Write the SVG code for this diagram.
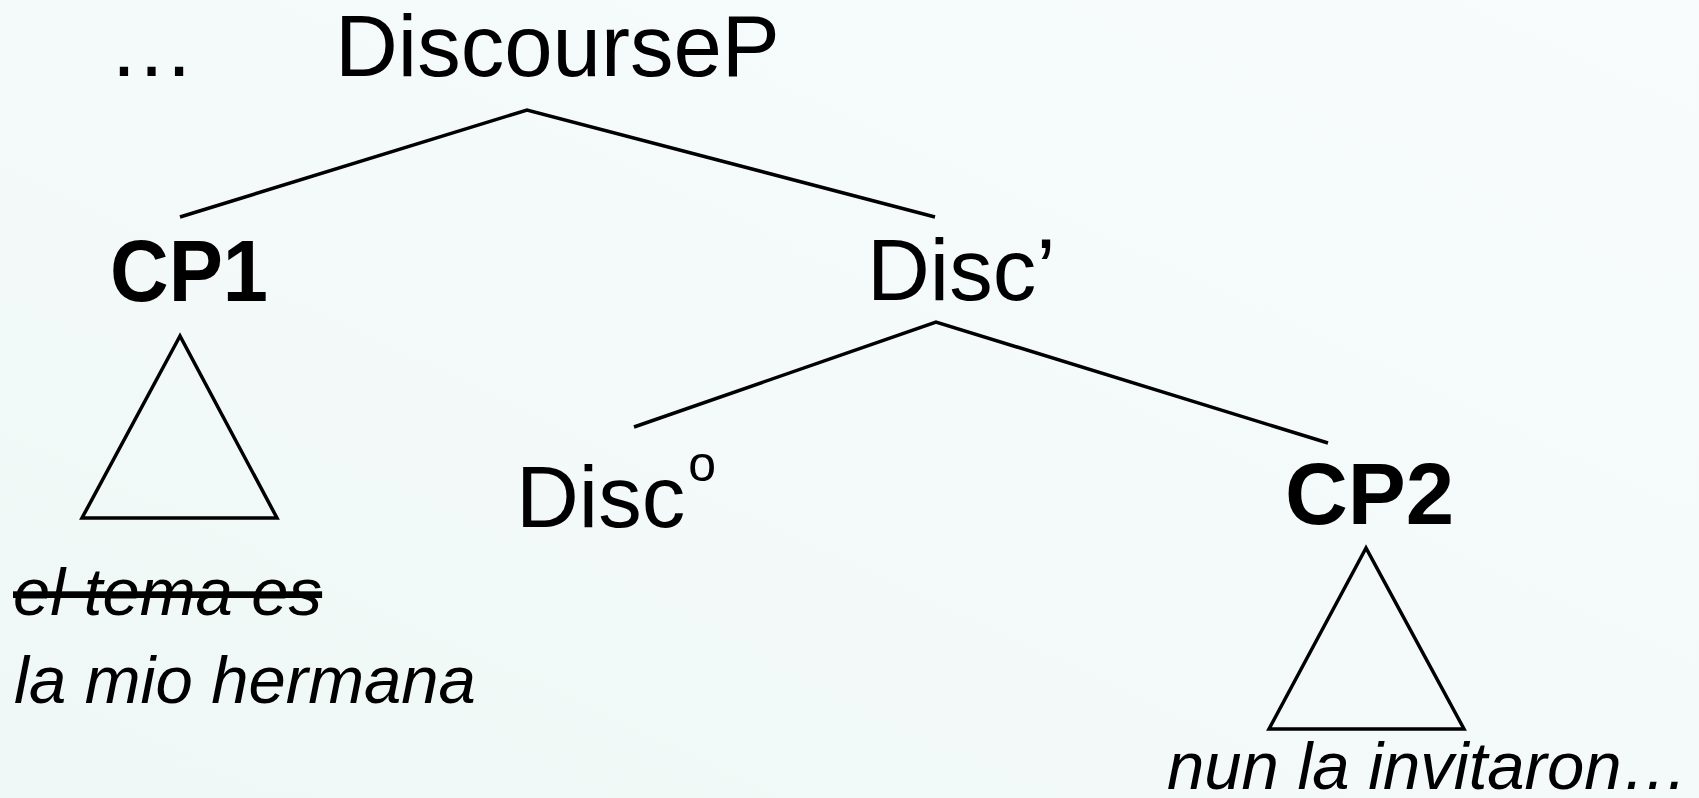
<svg xmlns="http://www.w3.org/2000/svg" width="1699" height="798" viewBox="0 0 1699 798">
  <defs>
    <linearGradient id="bg" x1="1" y1="0" x2="0" y2="1">
      <stop offset="0" stop-color="#F8FCFC"/>
      <stop offset="1" stop-color="#EFF8F6"/>
    </linearGradient>
    <style>
      .lbl { font-family: "Liberation Sans", Arial, sans-serif; font-size: 87px; fill: #000; }
      .bold { font-weight: bold; }
      .yield { font-family: "Liberation Sans", Arial, sans-serif; font-size: 67px; font-style: italic; fill: #000; }
      .edge { stroke: #000; stroke-width: 3.5; fill: none; stroke-linecap: butt; }
      .tri { stroke: #000; stroke-width: 3.5; fill: none; stroke-linejoin: miter; }
    </style>
  </defs>

  <rect x="0" y="0" width="1699" height="798" fill="url(#bg)"/>

  <!-- tree branches -->
  <g id="connectors">
    <polyline class="edge" points="180,217 527,110 935,217"/>
    <polyline class="edge" points="634,427 936,322 1328,443"/>
  </g>

  <g id="node-ellipsis">
    <text class="lbl" x="108" y="76">…</text>
  </g>

  <g id="node-discourseP">
    <text class="lbl" x="335" y="76">DiscourseP</text>
  </g>

  <g id="node-cp1">
    <text class="lbl bold" x="110" y="301" textLength="158" lengthAdjust="spacingAndGlyphs">CP1</text>
    <polygon class="tri" points="180,336 82,518 277,518"/>
    <text class="yield" x="13" y="615" text-decoration="line-through">el tema es</text>
    <text class="yield" x="14" y="703">la mio hermana</text>
  </g>

  <g id="node-discbar">
    <text class="lbl" x="867" y="300">Disc’</text>
  </g>

  <g id="node-disc0">
    <text class="lbl" x="516" y="527">Disc<tspan font-size="50" dx="3" dy="-46">o</tspan></text>
  </g>

  <g id="node-cp2">
    <text class="lbl bold" x="1285" y="524">CP2</text>
    <polygon class="tri" points="1366,548 1269,729 1464,729"/>
    <text class="yield" x="1167" y="789">nun la invitaron…</text>
  </g>
</svg>
